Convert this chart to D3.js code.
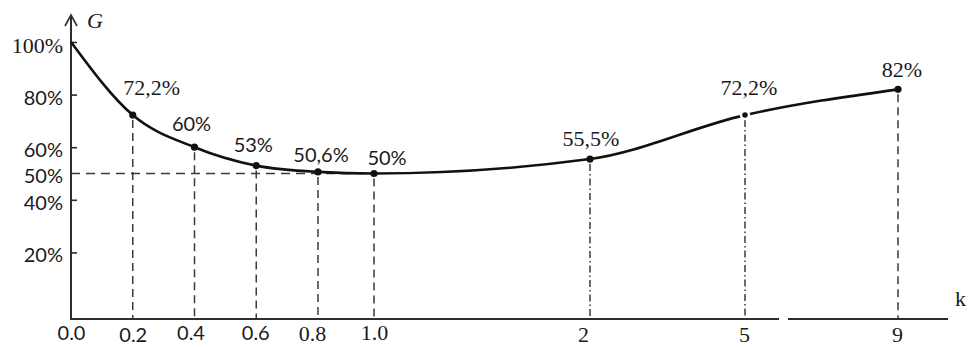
<!DOCTYPE html>
<html>
<head>
<meta charset="utf-8">
<script src="https://cdn.jsdelivr.net/npm/d3@7/dist/d3.min.js"></script>
<style>
  html, body { margin: 0; padding: 0; background: #fff; }
  svg { display: block; }
  .serif { font-family: "Liberation Serif", "Times New Roman", serif; font-size: 22px; }
  .sans { font-family: Lato, "Liberation Sans", sans-serif; font-size: 20px; }
</style>
</head>
<body>
<script>
// Share G versus k
const kValues = [0, 0.2, 0.4, 0.6, 0.8, 1.0, 2, 5, 9];
const gValues = [100, 72.2, 60, 53, 50.6, 50, 55.5, 72.2, 82];
const pointLabels = ["", "72,2%", "60%", "53%", "50,6%", "50%", "55,5%", "72,2%", "82%"];
const kTickLabels = ["0.0", "0.2", "0.4", "0.6", "0.8", "1.0", "2", "5", "9"];
const gTicks = [20, 40, 50, 60, 80, 100];

const W = 972, H = 347;
const axisX = 71, axisY = 319;

const svg = d3.select("body").append("svg")
  .attr("width", W).attr("height", H)
  .attr("viewBox", `0 0 ${W} ${H}`);

// k axis is stretched on [0, 1] and compressed beyond it
const x = d3.scaleLinear()
  .domain([0, 0.8, 1, 2, 5, 9])
  .range([axisX, 318, 374, 590, 745, 898]);

const y = d3.scaleLinear().domain([0, 100]).range([305, 42]);

const ink = "#1a1a22";
const axisInk = "#2e2e2e";

// label fonts and nudges
const gTickSerif = new Set([100]);
const kTickSerif = new Set(["0.8", "1.0", "2", "5", "9"]);
const kTickNudge = [[0, 0], [0, 1.5], [-4, 0], [-1, 0], [-6, -0.5], [0, -2], [-7, 0], [-1, 0], [-1, 0]];
const labelSerif = new Set([1, 6, 7, 8]);
const labelNudge = [[0, 0], [19, -20], [-3, -16], [-3, -14], [3, -10], [13, -9], [1, -13], [4, -20], [4, -12]];
const dashFor = i => (i === 6 || i === 7) ? "7,3,1.5,3" : "8,5";

const pts = kValues.map((k, i) => ({ k, g: gValues[i], i }));

// guide lines
const guides = svg.append("g").attr("stroke", "#3a3a3a").attr("stroke-width", 1.5).attr("fill", "none");
guides.append("line")
  .attr("x1", axisX).attr("x2", x(1))
  .attr("y1", y(50)).attr("y2", y(50))
  .attr("stroke-dasharray", "9,6");
guides.selectAll("line.v").data(pts.filter(d => d.k > 0)).join("line")
  .attr("class", "v")
  .attr("x1", d => x(d.k)).attr("x2", d => x(d.k))
  .attr("y1", d => y(d.g) + 5).attr("y2", axisY)
  .attr("stroke-dasharray", d => dashFor(d.i));

// y axis
const yAxis = d3.axisLeft(y)
  .tickValues(gTicks)
  .tickFormat(d => d + "%")
  .tickSizeInner(-6).tickSizeOuter(0).tickPadding(8);
const gy = svg.append("g").attr("transform", `translate(${axisX},0)`).call(yAxis);
gy.select(".domain").remove();
gy.attr("font-family", null).attr("font-size", null);
gy.selectAll(".tick line").attr("stroke", axisInk).attr("stroke-width", 1.6)
  .filter(d => d === 50).remove();
gy.selectAll(".tick text")
  .attr("class", d => gTickSerif.has(d) ? "serif" : "sans")
  .attr("fill", ink)
  .attr("dy", "0.32em")
  .attr("y", 3);

svg.append("line")
  .attr("x1", axisX).attr("x2", axisX)
  .attr("y1", axisY + 1).attr("y2", 15)
  .attr("stroke", axisInk).attr("stroke-width", 2);
svg.append("path")
  .attr("d", d3.line()([[axisX - 6, 26], [axisX, 15], [axisX + 6, 26]]))
  .attr("fill", "none").attr("stroke", axisInk).attr("stroke-width", 1.6);
svg.append("text").attr("class", "serif")
  .attr("x", 87).attr("y", 28)
  .attr("font-style", "italic").attr("font-size", 20)
  .attr("fill", ink).text("G");

// k axis, broken between 5 and 9
const xAxis = d3.axisBottom(x)
  .tickValues(kValues)
  .tickFormat((d, i) => kTickLabels[i])
  .tickSize(0).tickPadding(7);
const gx = svg.append("g").attr("transform", `translate(0,${axisY})`).call(xAxis);
gx.select(".domain").remove();
gx.attr("font-family", null).attr("font-size", null);
gx.selectAll(".tick text")
  .attr("class", (d, i) => kTickSerif.has(kTickLabels[i]) ? "serif" : "sans")
  .attr("fill", ink)
  .attr("dx", (d, i) => kTickNudge[i][0])
  .attr("y", (d, i) => 7 + kTickNudge[i][1]);

const axisSegs = [[axisX, 779], [788, 948]];
svg.append("g").selectAll("line").data(axisSegs).join("line")
  .attr("x1", d => d[0]).attr("x2", d => d[1])
  .attr("y1", axisY).attr("y2", axisY)
  .attr("stroke", axisInk).attr("stroke-width", 2);
svg.append("text").attr("class", "serif")
  .attr("x", 955).attr("y", 306)
  .attr("font-size", 24).attr("fill", ink).text("k");

// curve and points
const line = d3.line()
  .x(d => x(d.k)).y(d => y(d.g))
  .curve(d3.curveMonotoneX);
svg.append("path").datum(pts)
  .attr("d", line)
  .attr("fill", "none").attr("stroke", "#111").attr("stroke-width", 2.6);

svg.append("g").selectAll("circle").data(pts.filter(d => d.k > 0)).join("circle")
  .attr("cx", d => x(d.k)).attr("cy", d => y(d.g))
  .attr("r", d => d.i === 7 ? 4 : 3.6)
  .attr("fill", "#111")
  .attr("stroke", d => d.i === 7 ? "#fff" : "none")
  .attr("stroke-width", 2.5);

svg.append("g").selectAll("text").data(pts.filter(d => pointLabels[d.i])).join("text")
  .attr("class", d => labelSerif.has(d.i) ? "serif" : "sans")
  .attr("text-anchor", "middle")
  .attr("x", d => x(d.k) + labelNudge[d.i][0])
  .attr("y", d => y(d.g) + labelNudge[d.i][1])
  .attr("fill", ink)
  .text(d => pointLabels[d.i]);
</script>
</body>
</html>
